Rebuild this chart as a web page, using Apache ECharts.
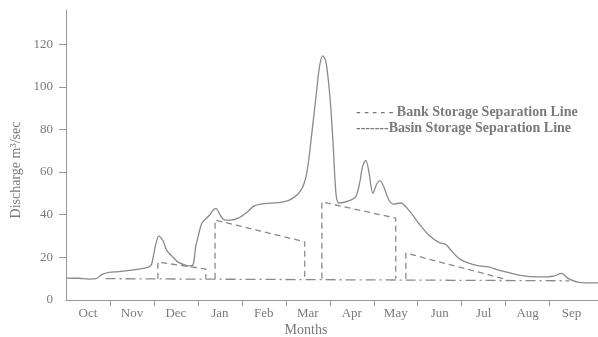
<!DOCTYPE html>
<html>
<head>
<meta charset="utf-8">
<script src="https://cdn.jsdelivr.net/npm/echarts@6/dist/echarts.min.js"></script>
<style>
  html, body { margin: 0; padding: 0; background: #ffffff; }
  #chart { width: 598px; height: 337px; }
</style>
</head>
<body>
<div id="chart"></div>
<script>
// Hydrological year, Oct .. Sep; time measured in months from 1 October
const months = ['Oct', 'Nov', 'Dec', 'Jan', 'Feb', 'Mar', 'Apr', 'May', 'Jun', 'Jul', 'Aug', 'Sep'];
const yTickValues = [0, 20, 40, 60, 80, 100, 120];
const keyLabels = ['- - - - - Bank Storage Separation Line', '-------Basin Storage Separation Line'];

// Observed discharge hydrograph (m³/sec)
const flowT = [0, 0.3, 0.52, 0.68, 0.82, 0.98, 1.2, 1.66, 1.89, 1.95, 2.03, 2.11, 2.2, 2.29, 2.45, 2.57, 2.8, 2.89,
  2.95, 3.02, 3.09, 3.25, 3.34, 3.41, 3.5, 3.61, 3.75, 3.93, 4.11, 4.27, 4.43, 4.95, 5.18, 5.36, 5.48, 5.59, 5.7,
  5.77, 5.84, 5.91, 6.0, 6.07, 6.14, 6.2, 6.43, 6.59, 6.68, 6.75, 6.82, 6.89, 6.98, 7.07, 7.14, 7.23, 7.34, 7.45,
  7.61, 7.8, 8.02, 8.25, 8.48, 8.64, 8.75, 8.93, 9.16, 9.39, 9.61, 9.84, 10.3, 10.75, 11.09, 11.27, 11.43, 11.66, 12.1];
const flowQ = [10.3, 10.2, 9.8, 10, 12, 13, 13.3, 14.5, 15.5, 17, 25, 30, 28, 23.4, 19.7, 17.5, 16, 16.5,
  25, 31, 36, 39.5, 42, 43, 40, 37.5, 37.5, 38.5, 41, 44, 45, 46, 48, 52, 60, 78, 98,
  110, 114.5, 112, 96, 75, 50, 45.5, 46.5, 48.5, 55, 63, 65.5, 60, 50, 54.5, 56, 53, 47, 45,
  45.5, 42, 36, 30.5, 27, 26, 23.5, 19.6, 17.3, 16, 15.5, 14, 11.7, 10.8, 11.2, 12.5, 10, 8.3, 8];

// Bank storage separation: four flood events, null breaks between them
const bankT = [2.09, 2.09, 3.18, 3.18, 3.2, 3.39, 3.39, 5.43, 5.43, 5.5, 5.82, 5.82, 7.5, 7.5, 7.6, 7.73, 7.73, 9.95];
const bankQ = [10, 17.8, 14.5, 10, null, 10, 37.5, 27.3, 10, null, 10, 46, 38.4, 10, null, 10, 22, 10];

// Basin storage separation (base flow)
const basinT = [0.9, 11.45];
const basinQ = [10, 9];

const zip = (xs, ys) => xs.map((x, i) => [x, ys[i] === null ? '-' : ys[i]]);

const grey = '#8a8a8a';
const textGrey = '#7a7a7a';
const serif = '"Liberation Serif", "DejaVu Serif", serif';

const chart = echarts.init(document.getElementById('chart'), null, { renderer: 'canvas' });

const keyText = (text, y) => ({
  type: 'text',
  x: 356,
  y: y,
  style: {
    text: text,
    fontFamily: serif,
    fontSize: 14,
    fontWeight: 'bold',
    fill: textGrey,
    align: 'left',
    verticalAlign: 'middle'
  }
});

chart.setOption({
  animation: false,
  backgroundColor: '#ffffff',
  grid: { left: 66, right: 0, top: 10, bottom: 37 },
  xAxis: {
    type: 'value',
    min: 0,
    max: 12.1,
    interval: 1,
    splitLine: { show: false },
    axisLine: { lineStyle: { color: '#999', width: 1 } },
    axisTick: {
      customValues: [1, 2, 3, 4, 5, 6, 7, 8, 9, 10, 11],
      length: 6,
      lineStyle: { color: '#999' }
    },
    axisLabel: {
      customValues: months.map((m, i) => i + 0.5),
      formatter: v => months[Math.floor(v)],
      margin: 7,
      fontFamily: serif,
      fontSize: 13,
      color: textGrey
    }
  },
  yAxis: {
    type: 'value',
    min: 0,
    max: 136,
    splitLine: { show: false },
    axisLine: { show: true, lineStyle: { color: '#999', width: 1 } },
    axisTick: {
      show: true,
      customValues: yTickValues.slice(1),
      length: 7,
      lineStyle: { color: '#999' }
    },
    axisLabel: {
      customValues: yTickValues,
      margin: 13,
      fontFamily: serif,
      fontSize: 13,
      color: textGrey
    }
  },
  graphic: [
    {
      type: 'text',
      x: 16,
      y: 170,
      rotation: Math.PI / 2,
      style: {
        text: 'Discharge m³/sec',
        fontFamily: serif,
        fontSize: 14,
        fill: textGrey,
        align: 'center',
        verticalAlign: 'middle'
      }
    },
    {
      type: 'text',
      x: 306,
      y: 330,
      style: {
        text: 'Months',
        fontFamily: serif,
        fontSize: 14,
        fill: textGrey,
        align: 'center',
        verticalAlign: 'middle'
      }
    },
    keyText(keyLabels[0], 112),
    keyText(keyLabels[1], 128)
  ],
  series: [
    {
      name: 'Discharge',
      type: 'line',
      data: zip(flowT, flowQ),
      symbol: 'none',
      smooth: 0.3,
      lineStyle: { color: grey, width: 1.3 },
      z: 3
    },
    {
      name: 'Bank Storage Separation Line',
      type: 'line',
      data: zip(bankT, bankQ),
      symbol: 'none',
      connectNulls: false,
      color: grey,
      lineStyle: { color: grey, width: 1.3, type: [6, 4] },
      z: 2
    },
    {
      name: 'Basin Storage Separation Line',
      type: 'line',
      data: zip(basinT, basinQ),
      symbol: 'none',
      color: grey,
      lineStyle: { color: grey, width: 1.3, type: [10, 4, 2, 4] },
      z: 2
    }
  ]
});
</script>
</body>
</html>
